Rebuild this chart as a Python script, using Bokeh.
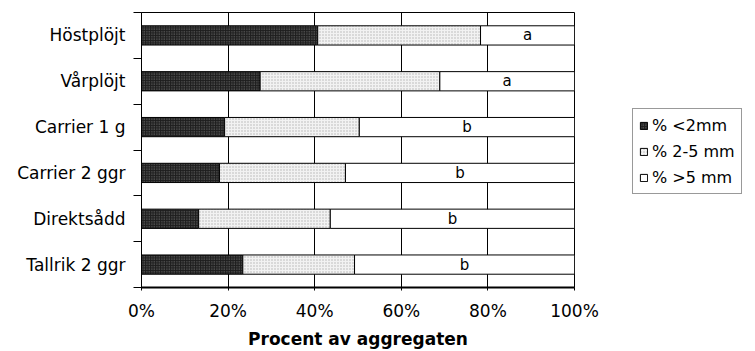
import numpy as np
from bokeh.plotting import figure
from bokeh.models import (Range1d, FixedTicker, PrintfTickFormatter, Legend,
                          LegendItem, ColumnDataSource)
from bokeh.core.properties import value
from bokeh.embed import file_html
from bokeh.resources import INLINE

# Aggregate size distribution per tillage treatment (% of aggregates)
treatments = ["Höstplöjt", "Vårplöjt", "Carrier 1 g", "Carrier 2 ggr",
              "Direktsådd", "Tallrik 2 ggr"]
pct_lt2 = [40.7, 27.4, 19.2, 18.0, 13.2, 23.4]
pct_2to5 = [37.6, 41.5, 31.1, 29.1, 30.4, 25.8]
pct_gt5 = [21.7, 31.1, 49.7, 52.9, 56.4, 50.8]
groups = ["a", "a", "b", "b", "b", "b"]
series_names = ["% <2mm", "% 2-5 mm", "% >5 mm"]
x_ticks = [0, 20, 40, 60, 80, 100]

FONT = "DejaVu Sans"

n = len(treatments)
pos = np.arange(n) + 0.5
lt2 = np.array(pct_lt2)
mid = np.array(pct_2to5)
gt5 = np.array(pct_gt5)
edge1 = lt2
edge2 = lt2 + mid
edge3 = edge2 + gt5

src = ColumnDataSource(dict(
    y=pos, e0=np.zeros(n), e1=edge1, e2=edge2, e3=edge3,
    lab_x=edge2 + gt5 / 2, lab=groups,
))

p = figure(frame_width=433, frame_height=275, output_backend="svg",
           toolbar_location=None,
           x_range=Range1d(0, 100), y_range=Range1d(n, 0),
           min_border_left=141, min_border_right=181,
           min_border_top=12, min_border_bottom=64)
p.background_fill_color = "white"
p.border_fill_color = "white"
p.outline_line_color = "black"
p.outline_line_width = 1

bar_h = 0.42
r1 = p.hbar(y="y", left="e0", right="e1", height=bar_h, source=src,
            fill_color="#1e1e1e", hatch_pattern="dot", hatch_color="#7a7a7a",
            hatch_scale=2.5, hatch_weight=1, line_color="black", line_width=1)
r2 = p.hbar(y="y", left="e1", right="e2", height=bar_h, source=src,
            fill_color="#f2f2f2", hatch_pattern="dot", hatch_color="#b4b4b4",
            hatch_scale=3, hatch_weight=1, line_color="black", line_width=1)
r3 = p.hbar(y="y", left="e2", right="e3", height=bar_h, source=src,
            fill_color="white", line_color="black", line_width=1)

p.text(x="lab_x", y="y", text="lab", source=src, text_align="center",
       text_baseline="middle", text_font=value(FONT), text_font_size="15px",
       text_color="black")

# x axis
xa = p.xaxis[0]
xa.ticker = FixedTicker(ticks=x_ticks)
xa.formatter = PrintfTickFormatter(format="%d%%")
xa.axis_line_width = 2
xa.axis_line_color = "black"
xa.major_tick_out = 3
xa.major_tick_in = 0
xa.minor_tick_out = 0
xa.major_label_standoff = 10
xa.major_label_text_font = FONT
xa.major_label_text_font_size = "17px"
xa.major_label_text_color = "black"
xa.axis_label = "Procent av aggregaten"
xa.axis_label_text_font = FONT
xa.axis_label_text_font_style = "bold"
xa.axis_label_text_font_size = "17px"
xa.axis_label_text_color = "black"
xa.axis_label_standoff = 5

# y axis: labels at band centres, small ticks at band boundaries
ya = p.yaxis[0]
ya.ticker = FixedTicker(ticks=list(pos), minor_ticks=list(range(n + 1)))
ya.major_label_overrides = {float(v): t for v, t in zip(pos, treatments)}
ya.major_tick_out = 0
ya.major_tick_in = 0
ya.minor_tick_out = 8
ya.minor_tick_in = 0
ya.minor_tick_line_color = "black"
ya.axis_line_color = "black"
ya.major_label_standoff = 8
ya.major_label_text_font = FONT
ya.major_label_text_font_size = "17px"
ya.major_label_text_color = "black"

p.xgrid.ticker = FixedTicker(ticks=x_ticks[1:-1])
p.xgrid.grid_line_color = "black"
p.xgrid.grid_line_width = 1
p.ygrid.grid_line_color = None

legend = Legend(items=[LegendItem(label=series_names[0], renderers=[r1]),
                       LegendItem(label=series_names[1], renderers=[r2]),
                       LegendItem(label=series_names[2], renderers=[r3])],
                location=(58, 93))
legend.label_text_font = FONT
legend.label_text_font_size = "16px"
legend.label_text_color = "black"
legend.glyph_width = 9
legend.glyph_height = 9
legend.label_height = 20
legend.label_standoff = 4
legend.spacing = 6
legend.padding = 6
legend.margin = 0
legend.border_line_color = "#333333"
legend.border_line_width = 1
legend.background_fill_alpha = 1
p.add_layout(legend, "right")

open("out.html", "w").write(file_html(p, INLINE))
